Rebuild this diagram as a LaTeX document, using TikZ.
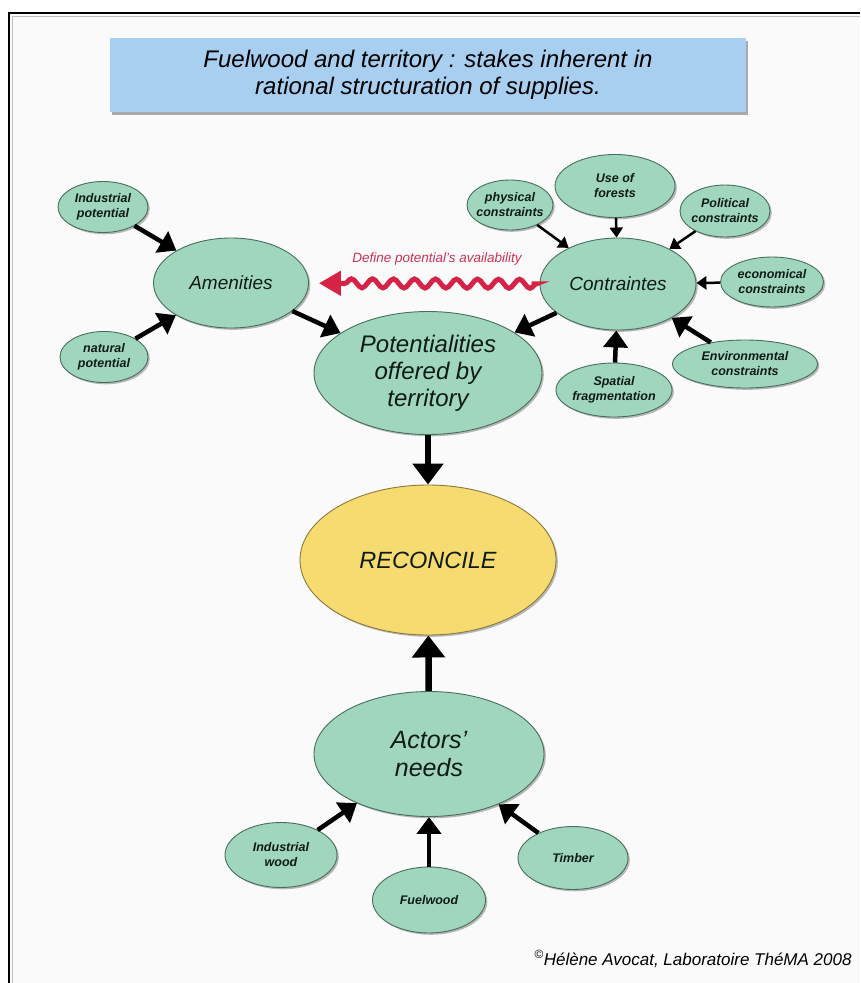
\documentclass[tikz,border=0pt]{standalone}
\usepackage{fontspec}
\setmainfont{Liberation Sans}
\usetikzlibrary{arrows.meta,shapes.geometric,shadows,decorations.pathmorphing}
\definecolor{bubfill}{RGB}{160,214,190}
\definecolor{bubline}{RGB}{72,110,92}
\definecolor{bubtext}{RGB}{15,28,22}
\definecolor{reconfill}{RGB}{246,219,112}
\definecolor{reconline}{RGB}{140,122,60}
\definecolor{titleblue}{RGB}{168,206,240}
\definecolor{wavered}{RGB}{212,35,70}
\definecolor{labred}{RGB}{200,50,85}
\newcommand{\smallbub}{\fontsize{12.5}{15}\selectfont\bfseries\itshape}
\newcommand{\bigbub}[2]{\fontsize{#1}{#2}\selectfont\itshape}

\begin{document}
\begin{tikzpicture}[x=1pt,y=-1pt,
  bub/.style={ellipse,draw=bubline,fill=bubfill,line width=0.9pt,inner xsep=-14pt,inner ysep=-2pt,
    align=center,text=bubtext,drop shadow={shadow xshift=1.8pt,shadow yshift=-1.8pt,fill=black!55}},
  thinarr/.style={line width=2.5pt,-{Triangle[length=10pt,width=13pt]}},
  midarr/.style={line width=4.5pt,-{Triangle[length=17pt,width=24pt]}},
  bigarr/.style={line width=5.5pt,-{Triangle[length=21pt,width=30pt]}}]
  \useasboundingbox (0,0) rectangle (860,983);
  \fill[black!2] (9,13) rectangle (860,983);
  \draw[black!25,line width=1pt] (12,983) -- (12,16) -- (860,16);
  \draw[line width=2pt] (9,983) -- (9,13) -- (860,13);

  % title
  \node[fill=titleblue,minimum width=636pt,minimum height=74pt,align=center,
    drop shadow={shadow xshift=2pt,shadow yshift=-2.5pt,fill=black!65},
    font=\fontsize{24}{27}\selectfont\itshape] (title) at (428,75)
    {Fuelwood and territory : stakes inherent in\\rational structuration of supplies.};

  % territory side
  \node[bub,minimum width=90pt,minimum height=51pt,font=\smallbub] (indpot) at (103,207) {Industrial\\potential};
  \node[bub,minimum width=88pt,minimum height=51pt,font=\smallbub] (natpot) at (104,357) {natural\\potential};
  \node[bub,minimum width=155pt,minimum height=90pt,font=\bigbub{19}{22}] (amen) at (231,283) {Amenities};
  \node[bub,minimum width=228pt,minimum height=123pt,font=\bigbub{24}{27}] (potl) at (428,373) {Potentialities\\offered by\\territory};
  \node[bub,minimum width=156pt,minimum height=92pt,font=\bigbub{19}{22}] (cont) at (618,284) {Contraintes};
  \node[bub,minimum width=86pt,minimum height=50pt,font=\smallbub] (phys) at (510,205) {physical\\constraints};
  \node[bub,minimum width=120pt,minimum height=63pt,font=\smallbub] (usef) at (615,186) {Use of\\forests};
  \node[bub,minimum width=90pt,minimum height=52pt,font=\smallbub] (polit) at (725,211) {Political\\constraints};
  \node[bub,minimum width=103pt,minimum height=50pt,font=\smallbub] (econ) at (772,282) {economical\\constraints};
  \node[bub,minimum width=145pt,minimum height=48pt,font=\smallbub] (envir) at (745,364) {Environmental\\constraints};
  \node[bub,minimum width=116pt,minimum height=54pt,font=\smallbub] (spat) at (614,390) {Spatial\\fragmentation};

  % reconcile and needs
  \node[bub,fill=reconfill,draw=reconline,minimum width=256pt,minimum height=150pt,font=\bigbub{23.5}{27}] (recon) at (428,560) {RECONCILE};
  \node[bub,minimum width=230pt,minimum height=125pt,font=\bigbub{25}{28}] (actors) at (429,754) {Actors'\\needs};
  \node[bub,minimum width=112pt,minimum height=65pt,font=\smallbub] (indw) at (281,855) {Industrial\\wood};
  \node[bub,minimum width=113pt,minimum height=66pt,font=\smallbub] (fuelw) at (429,900) {Fuelwood};
  \node[bub,minimum width=110pt,minimum height=63pt,font=\smallbub] (timber) at (573,858) {Timber};

  \draw[midarr] (indpot) -- (amen);
  \draw[midarr] (natpot) -- (amen);
  \draw[midarr] (amen) -- (potl);
  \draw[midarr] (cont) -- (potl);
  \foreach \s in {phys,usef,polit,econ}{\draw[thinarr] (\s) -- (cont);}
  \draw[midarr] (envir) -- (cont);
  \draw[midarr] (spat) -- (cont);
  \draw[bigarr] (potl) -- (recon);
  \draw[line width=6.5pt,-{Triangle[length=22pt,width=32pt]}] (actors) -- (recon);
  \foreach \s in {indw,fuelw,timber}{\draw[midarr] (\s) -- (actors);}

  % wavy link
  \node[text=labred,font=\fontsize{13.5}{16}\selectfont\itshape] (deflab) at (437,259) {Define potential's availability};
  \draw[wavered,line width=5pt,shorten >=10pt,shorten <=8pt,decorate,
    decoration={snake,amplitude=4.5pt,segment length=21pt,pre length=3pt,post length=30pt},
    -{Triangle[length=22pt,width=24pt]}] (cont) -- (amen);

  \node[anchor=base west,font=\fontsize{17}{20}\selectfont\itshape] (copyr) at (531,965)
    {\textsuperscript{\normalfont ©}Hélène Avocat, Laboratoire ThéMA 2008};
\end{tikzpicture}
\end{document}
